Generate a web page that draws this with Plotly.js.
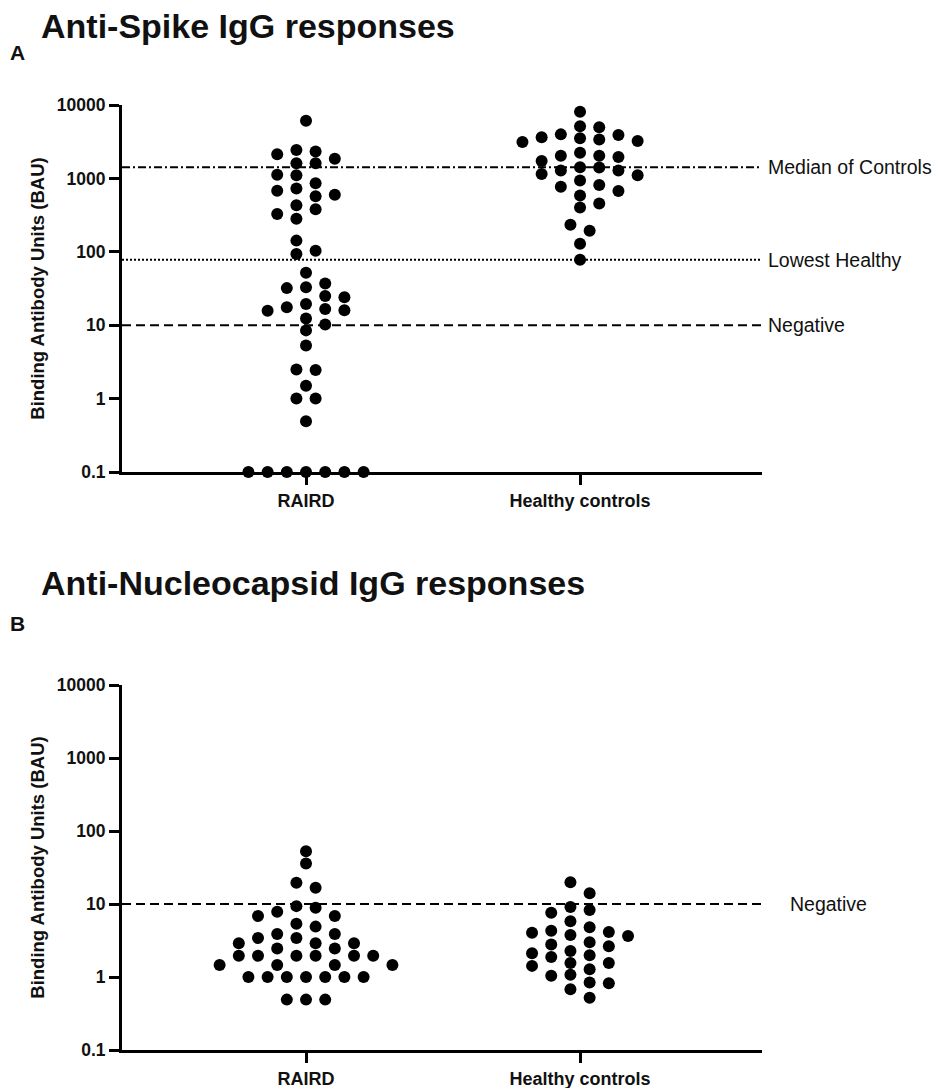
<!DOCTYPE html>
<html>
<head>
<meta charset="utf-8">
<script src="https://cdn.plot.ly/plotly-3.0.1.min.js"></script>
<style>html,body{margin:0;padding:0;background:#fff;}#chart{width:933px;height:1088px;}</style>
</head>
<body>
<div id="chart"></div>
<script>
// ---------------- DATA ----------------
const categories = ['RAIRD', 'Healthy controls'];
const yTickValues = [0.1, 1, 10, 100, 1000, 10000];
const yTickLabels = ['0.1', '1', '10', '100', '1000', '10000'];

const spikeRAIRD = [6100, 2430, 2320, 2140, 1850, 1610, 1610, 1120, 1100, 860, 730, 680, 600, 570,
  430, 380, 327, 283, 142, 103, 93, 52, 37, 33, 32, 25, 24, 19.4, 17.6, 16.6, 16, 15.7, 12.3, 10.2,
  8.5, 5.3, 2.5, 2.45, 1.5, 1.0, 1.0, 0.49, 0.1, 0.1, 0.1, 0.1, 0.1, 0.1, 0.1];
const spikeHealthy = [8110, 5130, 4980, 3980, 3910, 3640, 3520, 3380, 3240, 3140, 2230, 2030, 2030,
  1960, 1720, 1420, 1410, 1280, 1280, 1150, 1100, 937, 811, 770, 672, 586, 456, 402, 234, 194, 129, 78];
const nucRAIRD = [52.8, 35.9, 19.5, 16.7, 9.35, 8.9, 7.85, 6.84, 6.84, 5.37, 4.9, 3.88, 3.88, 3.42, 3.42,
  2.9, 2.9, 2.9, 2.45, 2.45, 1.95, 1.95, 1.95, 1.95, 1.95, 1.95, 1.46, 1.46, 1.46, 1.46,
  1.0, 1.0, 1.0, 1.0, 1.0, 1.0, 1.0, 0.49, 0.49, 0.49];
const nucHealthy = [19.9, 14.0, 9.1, 8.3, 7.6, 5.8, 4.8, 4.3, 4.13, 4.05, 3.76, 3.64, 3.0, 2.78, 2.64,
  2.27, 2.11, 1.99, 1.88, 1.56, 1.56, 1.42, 1.28, 1.07, 1.04, 0.84, 0.82, 0.68, 0.52];

const spikeMedianControls = 1420;
const spikeLowestHealthy = 78;
const negativeCutoff = 10;

const panelTitles = ['Anti-Spike IgG responses', 'Anti-Nucleocapsid IgG responses'];
const panelLetters = ['A', 'B'];
const yTitle = 'Binding Antibody Units (BAU)';
const spikeLineLabels = ['Median of Controls', 'Lowest Healthy', 'Negative'];
const nucLineLabels = ['Negative'];

// ---------------- LAYOUT GEOMETRY ----------------
const W = 933, H = 1088;
const FONT = '"Liberation Sans", Arial, Helvetica, sans-serif';
const xDomain = [122 / W, 762 / W];
const yDomainA = [1 - 472 / H, 1 - 105 / H];
const yDomainB = [1 - 1050 / H, 1 - 685 / H];
const xRange = [-0.6715, 1.664];
const yRange = [-1, 4];

const xPxPerUnit = (xDomain[1] - xDomain[0]) * W / (xRange[1] - xRange[0]);
const yPxPerDecade = (yDomainA[1] - yDomainA[0]) * H / (yRange[1] - yRange[0]);
const STEP_PX = 19.2;   // horizontal spacing between swarm columns
const DIAM_PX = 11.6;   // vertical clearance between dots in the same column

// simple deterministic beeswarm (column based), computed from the values
function swarm(values, center) {
  const pts = values.map(v => ({ v, py: Math.log10(v) * yPxPerDecade, col: null }));
  const order = pts.slice().sort((a, b) => b.v - a.v);
  const placed = [];
  for (const p of order) {
    let k = 0, done = false;
    while (!done) {
      const cands = k === 0 ? [0] : [k, -k];
      for (const c of cands) {
        if (!placed.some(q => q.col === c && Math.abs(q.py - p.py) < DIAM_PX)) {
          p.col = c; placed.push(p); done = true; break;
        }
      }
      k++;
    }
  }
  // centre each vertically-connected group
  const sorted = pts.slice().sort((a, b) => a.py - b.py);
  const groups = [];
  let cur = [sorted[0]];
  for (let i = 1; i < sorted.length; i++) {
    if (sorted[i].py - sorted[i - 1].py < DIAM_PX) cur.push(sorted[i]);
    else { groups.push(cur); cur = [sorted[i]]; }
  }
  groups.push(cur);
  for (const g of groups) {
    const mn = Math.min(...g.map(p => p.col)), mx = Math.max(...g.map(p => p.col));
    const shift = (mn + mx) / 2;
    g.forEach(p => p.col -= shift);
  }
  return pts.map(p => center + p.col * STEP_PX / xPxPerUnit);
}

function dots(values, center, xa, ya) {
  return {
    type: 'scatter', mode: 'markers', x: swarm(values, center), y: values,
    xaxis: xa, yaxis: ya, cliponaxis: false, hoverinfo: 'y',
    marker: { color: '#000', size: 12, line: { width: 0 } }, showlegend: false
  };
}
function refLine(value, dash, xa, ya) {
  return {
    type: 'scatter', mode: 'lines', x: [xRange[0], xRange[1]], y: [value, value],
    xaxis: xa, yaxis: ya, hoverinfo: 'skip', showlegend: false,
    line: { color: '#000', width: 2, dash: dash }
  };
}

const DASH = '9px,5px';
const DOT = '2px,2px';
const DASHDOT = '8px,3px,2px,3px';

const traces = [
  refLine(spikeMedianControls, DASHDOT, 'x', 'y'),
  refLine(spikeLowestHealthy, DOT, 'x', 'y'),
  refLine(negativeCutoff, DASH, 'x', 'y'),
  refLine(negativeCutoff, DASH, 'x2', 'y2'),
  dots(spikeRAIRD, 0, 'x', 'y'),
  dots(spikeHealthy, 1, 'x', 'y'),
  dots(nucRAIRD, 0, 'x2', 'y2'),
  dots(nucHealthy, 1, 'x2', 'y2')
];

function xAxis(anchor) {
  return {
    domain: xDomain, range: xRange, anchor: anchor, automargin: false,
    tickmode: 'array', tickvals: [0, 1], ticktext: categories,
    showline: true, linecolor: '#000', linewidth: 3, mirror: false,
    ticks: 'outside', ticklen: 10, tickwidth: 3, tickcolor: '#000',
    showgrid: false, zeroline: false, fixedrange: true,
    tickfont: { family: FONT, size: 18, color: '#111', weight: 700 }
  };
}
function yAxis(domain, anchor) {
  return {
    type: 'log', domain: domain, range: yRange, anchor: anchor, automargin: false,
    tickmode: 'array', tickvals: yTickValues, ticktext: yTickLabels,
    showline: true, linecolor: '#000', linewidth: 3,
    ticks: 'outside', ticklen: 10, tickwidth: 3, tickcolor: '#000',
    showgrid: false, zeroline: false, fixedrange: true,
    tickfont: { family: FONT, size: 17.5, color: '#111', weight: 700 },
    title: { text: yTitle, standoff: 8, font: { family: FONT, size: 18.5, color: '#111', weight: 700 } }
  };
}

const annotations = [];
function addText(text, xPx, yPx, size, weight, xanchor) {
  annotations.push({
    text: text, xref: 'paper', yref: 'paper', x: xPx / W, y: 1 - yPx / H,
    xanchor: xanchor || 'left', yanchor: 'middle', showarrow: false,
    font: { family: FONT, size: size, color: '#111', weight: weight }
  });
}
addText(panelTitles[0], 39, 26, 34, 700);
addText(panelLetters[0], 8, 52, 21, 700);
addText(panelTitles[1], 39, 583, 34, 700);
addText(panelLetters[1], 8, 623, 21, 700);

const spikeLineValues = [spikeMedianControls, spikeLowestHealthy, negativeCutoff];
spikeLineValues.forEach((v, i) => {
  annotations.push({
    text: spikeLineLabels[i], xref: 'paper', yref: 'y', x: 766 / W, y: Math.log10(v),
    xanchor: 'left', yanchor: 'middle', showarrow: false,
    font: { family: FONT, size: 19.5, color: '#111' }
  });
});
annotations.push({
  text: nucLineLabels[0], xref: 'paper', yref: 'y2', x: 788 / W, y: Math.log10(negativeCutoff),
  xanchor: 'left', yanchor: 'middle', showarrow: false,
  font: { family: FONT, size: 19.5, color: '#111' }
});

const layout = {
  width: W, height: H, autosize: false,
  margin: { l: 0, r: 0, t: 0, b: 0, pad: 0 },
  paper_bgcolor: '#fff', plot_bgcolor: '#fff',
  showlegend: false,
  font: { family: FONT, color: '#111' },
  xaxis: xAxis('y'),
  yaxis: yAxis(yDomainA, 'x'),
  xaxis2: xAxis('y2'),
  yaxis2: yAxis(yDomainB, 'x2'),
  annotations: annotations
};

Plotly.newPlot('chart', traces, layout, { displayModeBar: false, staticPlot: true });
</script>
</body>
</html>
